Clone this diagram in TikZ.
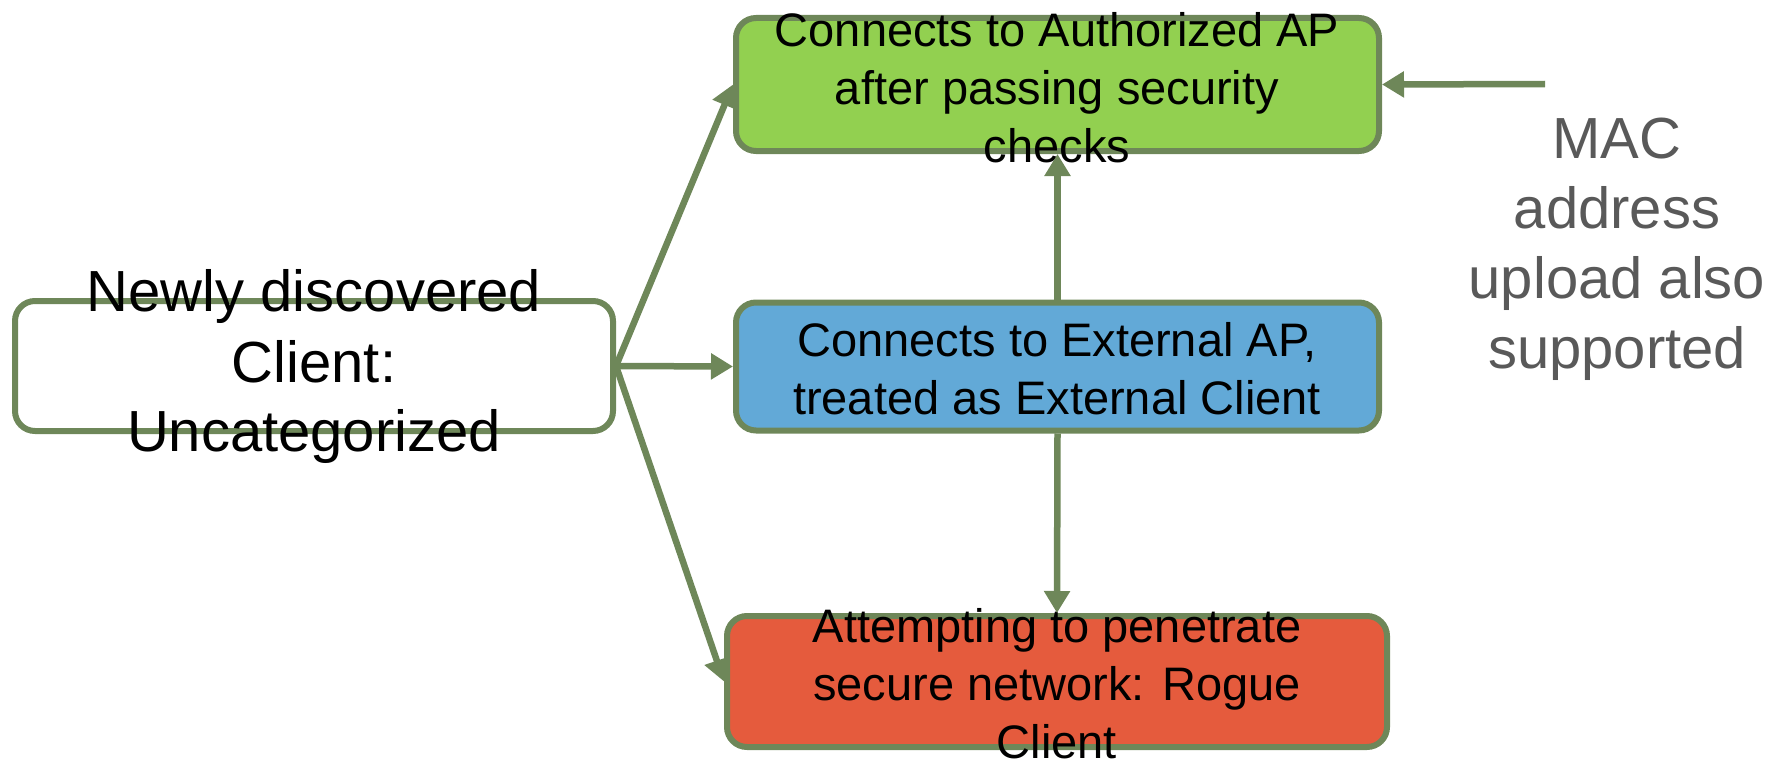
\documentclass[tikz,border=0pt]{standalone}
\usepackage{fontspec}
\setmainfont{Liberation Sans}
\usetikzlibrary{arrows.meta}

\definecolor{edgegreen}{HTML}{6E8759}
\definecolor{okfill}{HTML}{92D050}
\definecolor{extfill}{HTML}{62A9D7}
\definecolor{roguefill}{HTML}{E55B3D}
\definecolor{notegray}{HTML}{595959}

\tikzset{
  statebox/.style={draw=edgegreen, line width=6pt, rounded corners=20pt,
    inner sep=0pt},
  bigtxt/.style={align=center, inner sep=0pt,
    font=\fontsize{58pt}{70pt}\selectfont},
  smalltxt/.style={align=center, inner sep=0pt,
    font=\fontsize{47pt}{58pt}\selectfont},
  flow/.style={draw=edgegreen, line width=6.5pt,
    -{Triangle[length=22pt,width=25pt]}}
}

\begin{document}
\begin{tikzpicture}[x=1pt, y=-1pt]
  \useasboundingbox (0,0) rectangle (1773,760);

  % state boxes
  \node[statebox, fill=white, minimum width=598pt, minimum height=130pt]
    (new) at (314,366) {};
  \node[statebox, fill=okfill, minimum width=643pt, minimum height=133pt]
    (auth) at (1057.5,84.5) {};
  \node[statebox, fill=extfill, minimum width=643pt, minimum height=128pt]
    (ext) at (1057.5,366.5) {};
  \node[statebox, fill=roguefill, minimum width=660pt, minimum height=131pt]
    (rogue) at (1057,681.5) {};

  % box texts, centred and allowed to run past the box edges
  \node[bigtxt] (newtxt) at (314,367) {Newly discovered\\Client:\\Uncategorized};
  \node[smalltxt] (authtxt) at (1057,88) {Connects to Authorized AP\\after passing security\\checks};
  \node[smalltxt] (exttxt) at (1057,369) {Connects to External AP,\\treated as External Client};
  \node[smalltxt] (roguetxt) at (1057,684) {Attempting to penetrate\\secure network: Rogue\\Client};

  % side note
  \node[bigtxt, text=notegray] (note) at (1617,249) {MAC\\address\\upload also\\supported};
  \coordinate (notearrow) at (1545,84);

  % transitions
  \draw[flow] (new.east) -- (auth.west);
  \draw[flow] (new.east) -- (ext.west);
  \draw[flow] (new.east) -- (rogue.west);
  \draw[flow] (ext.north) -- (auth.south);
  \draw[flow] (ext.south) -- (rogue.north);
  \draw[flow] (notearrow) -- (auth.east);
\end{tikzpicture}
\end{document}
